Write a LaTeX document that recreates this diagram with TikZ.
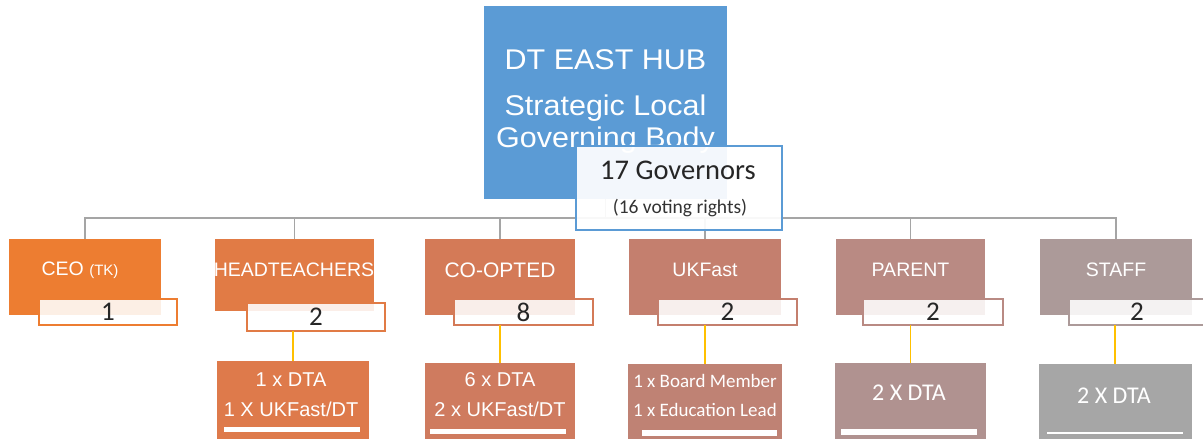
\documentclass[tikz,border=0pt]{standalone}
\usepackage{fontspec}
\setmainfont{Liberation Sans}
\newfontfamily\widesans[FakeStretch=1.07]{Liberation Sans}
\newfontfamily\calibri{Carlito}
\definecolor{hubC}{HTML}{5B9BD5}
\definecolor{ceoC}{HTML}{ED7D31}
\definecolor{headC}{HTML}{E17B45}
\definecolor{coopC}{HTML}{D47A57}
\definecolor{ukfC}{HTML}{C47F6E}
\definecolor{parC}{HTML}{B98A83}
\definecolor{stafC}{HTML}{AC9A99}
\definecolor{dtaA}{HTML}{DE7A4B}
\definecolor{dtaB}{HTML}{CF7B5F}
\definecolor{dtaC}{HTML}{BF8274}
\definecolor{dtaD}{HTML}{B09290}
\definecolor{dtaE}{HTML}{A6A6A6}
\definecolor{busC}{HTML}{A5A5A5}
\definecolor{linkC}{HTML}{FFC000}
\begin{document}
\begin{tikzpicture}[x=1pt,y=-1pt,
  every node/.style={inner sep=0pt,outer sep=0pt},
  bus/.style={draw=busC,line width=1.5pt},
  link/.style={draw=linkC,line width=1.8pt},
  rolebox/.style={rectangle,minimum width=#1,minimum height=76},
  rolelabel/.style={text=white,font=\fontsize{19.5}{23}\selectfont},
  countbox/.style={rectangle,draw=#1,line width=1.3pt,fill=white,fill opacity=0.88,text opacity=1,
    minimum height=26,font=\calibri\fontsize{27}{30}\selectfont,text=black!85},
  seatbox/.style={rectangle,minimum width=#1,minimum height=84},
  seatlabel/.style={text=white,align=center},
  bar/.style={fill=white}
]
\clip (0,0) rectangle (1203,439);

% junction of the tree
\coordinate (bus) at (605.5,218);

% top box
\node[rectangle,fill=hubC,minimum width=243,minimum height=193] (hub) at (605.5,102.5) {};

% role boxes
\node[rolebox=152,fill=ceoC] (ceo) at (85,277) {};
\node[rolebox=159,fill=headC,minimum height=72] (head) at (294.5,275) {};
\node[rolebox=150,fill=coopC] (coop) at (500,277) {};
\node[rolebox=152,fill=ukfC] (ukf) at (705,277) {};
\node[rolebox=149,fill=parC] (par) at (910.5,277) {};
\node[rolebox=152,fill=stafC] (staf) at (1116,277) {};

% tree connectors
\draw[bus] (hub.south) -- (bus);
\foreach \n in {ceo,head,coop,ukf,par,staf}
  \draw[bus] (\n.north) |- (bus);

\node[text=white,align=center,font=\widesans\fontsize{28.5}{32}\selectfont] (hubtext) at (605.5,102)
  {DT EAST HUB\\[14pt]Strategic Local\\Governing Body};

% governors box over the top box
\node[rectangle,draw=hubC,line width=1.3pt,fill=white,fill opacity=0.93,
  minimum width=206,minimum height=84] (gov) at (679,188) {};
\node[font=\calibri\fontsize{28.5}{32}\selectfont,text=black!85] (govtext) at (678,170) {17 Governors};
\node[font=\calibri\fontsize{19.5}{22}\selectfont,text=black!80] (votetext) at (680,208) {(16 voting rights)};

% role labels
\node[rolelabel] (ceot) at (80,270) {CEO \fontsize{15}{18}\selectfont(TK)};
\node[rolelabel] (headt) at (294,270) {HEADTEACHERS};
\node[rolelabel,font=\fontsize{21}{24}\selectfont] (coopt) at (500,270) {CO-OPTED};
\node[rolelabel] (ukft) at (705,270) {UKFast};
\node[rolelabel] (part) at (910.5,270) {PARENT};
\node[rolelabel] (staft) at (1116,270) {STAFF};

% member counts
\node[countbox=ceoC,minimum width=138] (ceon) at (108,312) {1};
\node[countbox=headC,minimum width=138,minimum height=28] (headn) at (316,317) {2};
\node[countbox=coopC,minimum width=139] (coopn) at (523.5,312) {8};
\node[countbox=ukfC,minimum width=139] (ukfn) at (727.5,312) {2};
\node[countbox=parC,minimum width=140] (parn) at (933,312) {2};
\node[countbox=stafC,minimum width=136] (stafn) at (1137,312) {2};

% seat breakdown boxes
\node[seatbox=152,fill=dtaA] (heads) at (293,403) {};
\node[seatbox=150,fill=dtaB] (coops) at (500,405) {};
\node[seatbox=154,fill=dtaC] (ukfs) at (705,406) {};
\node[seatbox=151,fill=dtaD] (pars) at (910.5,405) {};
\node[seatbox=153,fill=dtaE] (stafs) at (1115,406) {};

% links from counts to breakdowns
\draw[link] (heads.north) -- (heads.north |- headn.south);
\draw[link] (coops.north) -- (coops.north |- coopn.south);
\draw[link] (ukfs.north) -- (ukfs.north |- ukfn.south);
\draw[link] (pars.north) -- (pars.north |- parn.south);
\draw[link] (stafs.north) -- (stafs.north |- stafn.south);

% breakdown texts
\node[seatlabel,font=\fontsize{20}{30}\selectfont] (headst) at (291,395) {1 x DTA\\1 X UKFast/DT};
\node[seatlabel,font=\fontsize{20}{30}\selectfont] (coopst) at (500,395) {6 x DTA\\2 x UKFast/DT};
\node[seatlabel,font=\calibri\fontsize{19}{29}\selectfont] (ukfst) at (705,395) {1 x Board Member\\1 x Education Lead};
\node[seatlabel,font=\calibri\fontsize{24}{28}\selectfont] (parst) at (909,393) {2 X DTA};
\node[seatlabel,font=\calibri\fontsize{24}{28}\selectfont] (stafst) at (1114,396) {2 X DTA};

% white strips along the lower edge
\fill[bar] (224,427) rectangle (360,432);
\fill[bar] (430,429) rectangle (566,434);
\fill[bar] (642,430) rectangle (777,436);
\fill[bar] (841,429) rectangle (977,435);
\draw[white,line width=2pt] (1047,433) -- (1183,433);
\end{tikzpicture}
\end{document}
